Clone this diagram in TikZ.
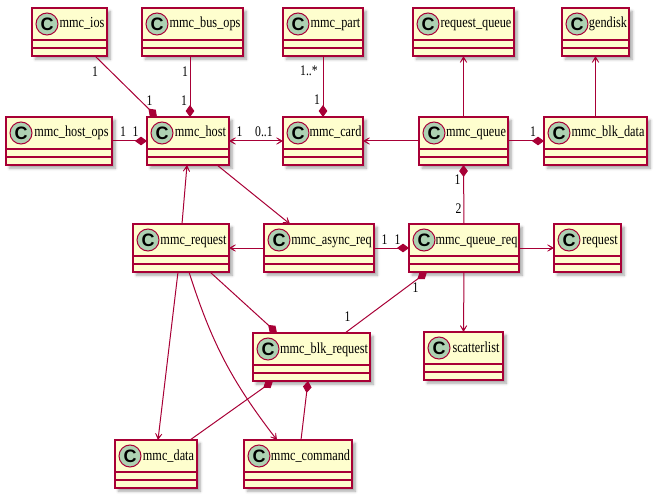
\documentclass[tikz,border=0pt]{standalone}
\usepackage{fontspec}
\usetikzlibrary{arrows.meta, calc, shadows.blur}
\newfontfamily\umlfont{Liberation Serif}[FakeStretch=0.8]
\newfontfamily\badgefont{Liberation Sans}
\definecolor{umlborder}{HTML}{A80036}
\definecolor{umlfill}{HTML}{FEFECE}
\definecolor{badgefill}{HTML}{ADD1B2}

\begin{document}
\begin{tikzpicture}[x=0.75pt, y=-0.75pt,
        umlclass/.style={rectangle, draw=umlborder, fill=umlfill, line width=1.1pt, anchor=north west, outer sep=0pt, inner xsep=0pt, inner ysep=4pt, minimum height=36pt, minimum width=#1*0.75pt, text height=11pt, text depth=17pt, font=\umlfont\fontsize{11.5}{13}\selectfont, execute at begin node={\hspace*{18.75pt}}, blur shadow={shadow xshift=2.5pt, shadow yshift=-2.5pt, shadow blur radius=2pt, shadow opacity=35}},
        compartment/.style={draw=umlborder, line width=1.1pt},
        badge/.style={circle, draw=umlborder, line width=0.75pt, fill=badgefill, minimum size=16.5pt, inner sep=0pt, font=\badgefont\bfseries\fontsize{13.5}{13.5}\selectfont},
        assoc/.style={draw=umlborder, line width=0.75pt, -{Stealth[length=8pt, width=9pt, inset=6pt]}},
        twoway/.style={draw=umlborder, line width=0.75pt, {Stealth[length=8pt, width=9pt, inset=6pt]}-{Stealth[length=8pt, width=9pt, inset=6pt]}},
        compose/.style={draw=umlborder, line width=0.75pt, -{Diamond[length=9pt, width=6.5pt]}},
        mult/.style={font=\umlfont\fontsize{11}{12}\selectfont, inner sep=0pt}
    ]
        \useasboundingbox (0,0) rectangle (657,499);

        % top row
        \node[umlclass=75] (ios) at (32,8) {mmc\_ios};
        \node[umlclass=101] (busops) at (142,8) {mmc\_bus\_ops};
        \node[umlclass=80] (part) at (283,8) {mmc\_part};
        \node[umlclass=101] (reqqueue) at (413,8) {request\_queue};
        \node[umlclass=67] (gendisk) at (562,8) {gendisk};

        % host, card, queue
        \node[umlclass=106] (hostops) at (6,117) {mmc\_host\_ops};
        \node[umlclass=82] (host) at (147,117) {mmc\_host};
        \node[umlclass=80] (card) at (283,117) {mmc\_card};
        \node[umlclass=89] (queue) at (419,117) {mmc\_queue};
        \node[umlclass=103] (blkdata) at (544,117) {mmc\_blk\_data};

        % requests
        \node[umlclass=96] (mrq) at (133,224) {mmc\_request};
        \node[umlclass=110] (asyncreq) at (264,224) {mmc\_async\_req};
        \node[umlclass=110] (queuereq) at (409,224) {mmc\_queue\_req};
        \node[umlclass=67] (req) at (554,224) {request};
        \node[umlclass=117] (blkreq) at (253,333) {mmc\_blk\_request};
        \node[umlclass=79] (sg) at (424,332) {scatterlist};

        % data and command
        \node[umlclass=82] (data) at (115,440) {mmc\_data};
        \node[umlclass=108] (cmd) at (244,440) {mmc\_command};

        % compartments and class badges
        \foreach \c in {ios,busops,part,reqqueue,gendisk,hostops,host,card,queue,blkdata,mrq,asyncreq,queuereq,req,blkreq,sg,data,cmd} {
            \draw[compartment] ($(\c.north west)+(0,32)$) -- ($(\c.north east)+(0,32)$)
                ($(\c.north west)+(0,40)$) -- ($(\c.north east)+(0,40)$);
            \node[badge] (\c-badge) at ($(\c.north west)+(15,16)$) {C};
        }

        % Connections
        \draw[compose] ($(ios.south)+(25.5,0)$) -- ($(host.north west)+(10,0)$);
        \draw[compose] ($(busops.south)+(-2.5,0)$) -- ($(host.north)+(2,0)$);
        \draw[compose] (hostops.east) -- (host.west);
        \draw[twoway] (host.east) -- (card.west);
        \draw[compose] (part.south) -- (card.north);
        \draw[assoc] (queue.west) -- (card.east);
        \draw[assoc] (queue.north) -- (reqqueue.south);
        \draw[compose] (queue.east) -- (blkdata.west);
        \draw[assoc] (blkdata.north) -- (gendisk.south);
        \draw[compose] (queuereq.north) -- (queue.south);
        \draw[assoc] ($(mrq.north)+(1,0)$) -- ($(host.south)+(-1,0)$);
        \draw[assoc] ($(host.south east)+(-12,0)$) -- ($(asyncreq.north west)+(26,0)$);
        \draw[assoc] (asyncreq.west) -- (mrq.east);
        \draw[compose] (asyncreq.east) -- (queuereq.west);
        \draw[assoc] (queuereq.east) -- (req.west);
        \draw[assoc] (queuereq.south) -- (sg.north);
        \draw[compose] ($(blkreq.north east)+(-25,0)$) -- ($(queuereq.south west)+(18,0)$);
        \draw[compose] ($(mrq.south east)+(-19,0)$) -- ($(blkreq.north west)+(24,0)$);
        \draw[assoc] ($(mrq.south)+(-3,0)$) -- ($(data.north)+(2,0)$);
        \draw[assoc] ($(mrq.south)+(8,0)$) to[bend right=10] ($(cmd.north)+(-21,0)$);
        \draw[compose] ($(data.north east)+(-7,0)$) -- ($(blkreq.south west)+(20,0)$);
        \draw[compose] ($(cmd.north)+(3,0)$) -- ($(blkreq.south)+(-3.5,0)$);

        % Multiplicities
        \node[mult] (m-ios) at ($(ios.south)+(25.5,16)$) {1};
        \node[mult] (m-host-ios) at ($(host.north west)+(2.5,-16)$) {1};
        \node[mult] (m-busops) at ($(busops.south)+(-7.5,16)$) {1};
        \node[mult] (m-host-busops) at ($(host.north)+(-4,-16)$) {1};
        \node[mult] (m-hostops) at ($(hostops.east)+(11,-9)$) {1};
        \node[mult] (m-host-hostops) at ($(host.west)+(-11.5,-9)$) {1};
        \node[mult] (m-host-card) at ($(host.east)+(10.5,-9)$) {1};
        \node[mult, anchor=east] (m-card-host) at ($(card.west)+(-10,-9)$) {0..1};
        \node[mult, anchor=east] (m-part) at ($(part.south)+(-5,15)$) {1..*};
        \node[mult] (m-card-part) at ($(card.north)+(-6,-17)$) {1};
        \node[mult] (m-blkdata) at ($(blkdata.west)+(-11,-9)$) {1};
        \node[mult] (m-queue) at ($(queue.south)+(-6,15)$) {1};
        \node[mult] (m-queuereq) at ($(queuereq.north)+(-5.5,-15)$) {2};
        \node[mult] (m-asyncreq) at ($(asyncreq.east)+(10.5,-8)$) {1};
        \node[mult] (m-queuereq-async) at ($(queuereq.west)+(-11.5,-8)$) {1};
        \node[mult] (m-queuereq-blk) at ($(queuereq.south west)+(6.5,16)$) {1};
        \node[mult] (m-blkreq) at ($(blkreq.north east)+(-22.5,-16)$) {1};
    \end{tikzpicture}
\end{document}
